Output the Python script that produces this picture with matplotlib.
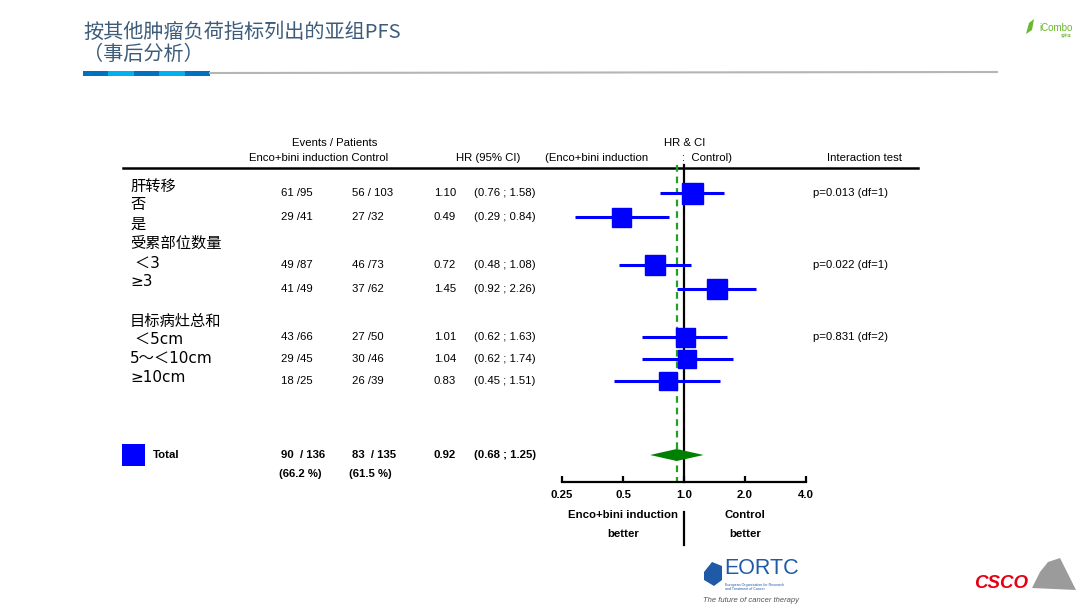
import matplotlib
matplotlib.use("Agg")
import numpy as np
import matplotlib.pyplot as plt
from matplotlib.patches import Rectangle, Polygon
from matplotlib.ticker import NullLocator

plt.rcParams['font.family'] = ['Liberation Sans', 'DejaVu Sans']
CJK = ['Noto Sans CJK SC', 'DejaVu Sans']
LAB = ['DejaVu Sans', 'Noto Sans CJK SC']

# ---- data ----
title_lines = ["按其他肿瘤负荷指标列出的亚组PFS", "（事后分析）"]
group_labels = ["肝转移", "否", "是", "受累部位数量", " ＜3", "≥3",
                "目标病灶总和", " ＜5cm", "5～＜10cm", "≥10cm"]
trt_events = [61, 29, 49, 41, 43, 29, 18]
trt_n = [95, 41, 87, 49, 66, 45, 25]
ctl_events = [56, 27, 46, 37, 27, 30, 26]
ctl_n = [103, 32, 73, 62, 50, 46, 39]
hr = [1.10, 0.49, 0.72, 1.45, 1.01, 1.04, 0.83]
hr_lo = [0.76, 0.29, 0.48, 0.92, 0.62, 0.62, 0.45]
hr_hi = [1.58, 0.84, 1.08, 2.26, 1.63, 1.74, 1.51]
interaction = ["p=0.013 (df=1)", "p=0.022 (df=1)", "p=0.831 (df=2)"]

total_trt = (90, 136, 66.2)
total_ctl = (83, 135, 61.5)
total_hr = (0.92, 0.68, 1.25)

ticks = [0.25, 0.5, 1.0, 2.0, 4.0]
tick_labels = ["0.25", "0.5", "1.0", "2.0", "4.0"]

# ---- layout (pixel rows on a 1080x608 canvas) ----
W, H = 1080, 608
row_y = [193, 217, 265, 289, 337, 359, 381]
label_y = [186, 204, 224, 243, 263, 282, 321, 339, 358, 378]
inter_y = [193, 265, 337]
total_y = 455
box_px = [21, 19, 20, 20, 19, 18, 18]
BLUE = "#0000ff"
GREEN = "#008000"
FS = 8.2


def px_box(x0, y0, x1, y1):
    return [x0 / W, 1 - y1 / H, (x1 - x0) / W, (y1 - y0) / H]


def frac(n):
    return f"{n}" if n < 100 else f" {n}"


fig = plt.figure(figsize=(W / 100, H / 100), dpi=100)
bg = fig.add_axes([0, 0, 1, 1])
bg.set_xlim(0, W)
bg.set_ylim(H, 0)
bg.axis("off")

# title + divider
bg.text(83, 32, title_lines[0], family=CJK, fontsize=14.5, color="#3d5c7a", va="center")
bg.text(83, 54, title_lines[1], family=CJK, fontsize=14.5, color="#3d5c7a", va="center")
for i in range(5):
    bg.add_patch(Rectangle((83 + i * 25.4, 71), 25.4, 5,
                           color="#0070c0" if i % 2 == 0 else "#00b0f0", lw=0))
bg.plot([210, 997], [73, 72], color="#b5b5b5", lw=1.5)

# iCombo logo
bg.add_patch(Polygon([(1026, 34), (1029, 23), (1034, 19), (1032, 30)], color="#6ab82e", lw=0))
bg.text(1039, 28, "iCombo", fontsize=7, color="#6ab82e", va="center")
bg.text(1061, 36, "爱康博", family=CJK, fontsize=2.5, color="#6ab82e", va="center")

# table headers
bg.text(335, 143, "Events / Patients", fontsize=FS, ha="center", va="center")
bg.text(249, 158, "Enco+bini induction Control", fontsize=FS, va="center")
bg.text(456, 158, "HR (95% CI)", fontsize=FS, va="center")
bg.text(685, 143, "HR & CI", fontsize=FS, ha="center", va="center")
bg.text(545, 158, "(Enco+bini induction", fontsize=FS, va="center")
bg.text(682, 158, ":  Control)", fontsize=FS, va="center")
bg.text(827, 158, "Interaction test", fontsize=FS, va="center")
bg.plot([123, 918], [168, 168], color="black", lw=1.8)

# subgroup labels
for lab, y in zip(group_labels, label_y):
    bg.text(130, y, lab, family=LAB, fontsize=11, va="center")

# numeric columns
for i, y in enumerate(row_y):
    bg.text(281, y, f"{trt_events[i]} /{frac(trt_n[i])}", fontsize=FS, va="center")
    bg.text(352, y, f"{ctl_events[i]} /{frac(ctl_n[i])}", fontsize=FS, va="center")
    bg.text(434, y, f"{hr[i]:.2f}", fontsize=FS, va="center")
    bg.text(474, y, f"({hr_lo[i]:.2f} ; {hr_hi[i]:.2f})", fontsize=FS, va="center")
for p, y in zip(interaction, inter_y):
    bg.text(813, y, p, fontsize=FS, va="center")

# total row
bg.add_patch(Rectangle((122, 444), 23, 22, color=BLUE, lw=0))
bg.text(153, total_y, "Total", fontsize=FS, weight="bold", va="center")
bg.text(281, total_y, f"{total_trt[0]}  / {total_trt[1]}", fontsize=FS, weight="bold", va="center")
bg.text(352, total_y, f"{total_ctl[0]}  / {total_ctl[1]}", fontsize=FS, weight="bold", va="center")
bg.text(434, total_y, f"{total_hr[0]:.2f}", fontsize=FS, weight="bold", va="center")
bg.text(474, total_y, f"({total_hr[1]:.2f} ; {total_hr[2]:.2f})", fontsize=FS, weight="bold", va="center")
bg.text(279, 474, f"({total_trt[2]} %)", fontsize=FS, weight="bold", va="center")
bg.text(349, 474, f"({total_ctl[2]} %)", fontsize=FS, weight="bold", va="center")

# favours labels
bg.text(623, 515, "Enco+bini induction", fontsize=FS, weight="bold", ha="center", va="center")
bg.text(623, 534, "better", fontsize=FS, weight="bold", ha="center", va="center")
bg.text(745, 515, "Control", fontsize=FS, weight="bold", ha="center", va="center")
bg.text(745, 534, "better", fontsize=FS, weight="bold", ha="center", va="center")

# EORTC logo
bg.add_patch(Polygon([(704, 572), (712, 562), (722, 566), (722, 580), (714, 586), (704, 580)],
                     color="#1f5aa6", lw=0))
bg.text(724, 569, "EORTC", fontsize=15.5, color="#1f5aa6", va="center")
bg.text(725, 587, "European Organisation for Research\nand Treatment of Cancer",
        fontsize=2.6, color="#1f5aa6", va="center", linespacing=1.1)
bg.text(703, 600, "The future of cancer therapy", fontsize=5.5, style="italic",
        color="#555555", va="center")

# CSCO logo
bg.add_patch(Polygon([(1032, 588), (1040, 572), (1048, 562), (1060, 558), (1066, 570),
                      (1076, 590)], color="#7a7a7a", lw=0, alpha=0.75))
bg.text(974, 583, "CSCO", fontsize=13.5, weight="bold", style="italic", color="#e60012", va="center")

# ---- forest plot ----
ax = fig.add_axes(px_box(540, 160, 830, 548))
ax.patch.set_visible(False)
ax.set_xscale("log", base=2)
ax.set_xlim(2 ** ((540 - 684) / 61), 2 ** ((830 - 684) / 61))
ax.set_ylim(548, 160)

ax.plot([1, 1], [165, 482], color="black", lw=1.6, zorder=1)
ax.plot([1, 1], [512, 545], color="black", lw=1.6, zorder=1)
ax.plot([total_hr[0]] * 2, [165, 482], color="#22a022", lw=1.6,
        ls=(0, (3, 2.2)), zorder=1.5)

ax.hlines(row_y, hr_lo, hr_hi, color=BLUE, lw=2.2, zorder=2)
for x, y, s in zip(hr, row_y, box_px):
    ax.plot(x, y, marker="s", ms=s * 0.72, color=BLUE, mec=BLUE, zorder=3)

ax.add_patch(Polygon([(total_hr[1], total_y), (total_hr[0], total_y - 6),
                      (total_hr[2], total_y), (total_hr[0], total_y + 6)],
                     color=GREEN, lw=0, zorder=2))

for s in ["top", "left", "right"]:
    ax.spines[s].set_visible(False)
ax.spines["bottom"].set_position(("data", 482))
ax.spines["bottom"].set_bounds(ticks[0], ticks[-1])
ax.spines["bottom"].set_linewidth(1.6)
ax.set_yticks([])
ax.set_xticks(ticks)
ax.set_xticklabels(tick_labels, fontsize=FS, fontweight="bold")
ax.xaxis.set_minor_locator(NullLocator())
ax.tick_params(axis="x", direction="in", length=4, width=1.6, pad=6)

fig.savefig("out.png", dpi=100)
